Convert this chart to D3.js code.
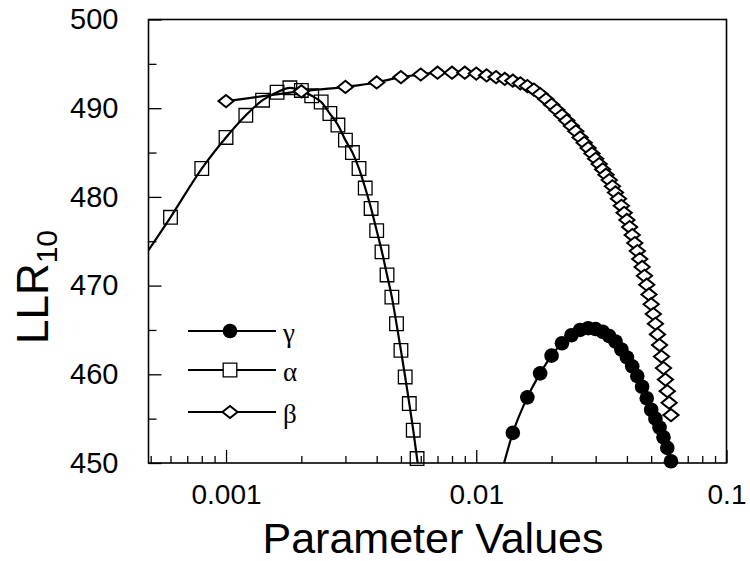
<!DOCTYPE html>
<html>
<head>
<meta charset="utf-8">
<script src="https://cdn.jsdelivr.net/npm/d3@7"></script>
<style>
  body { margin: 0; background: #fff; }
  svg { display: block; }
  text { font-family: "Liberation Sans", Arial, Helvetica, sans-serif; fill: #000; }
</style>
</head>
<body>
<div id="chart"></div>
<script>
// parameter values (x) and LLR10 (y)
var gammaP = [0.014, 0.016, 0.018, 0.020, 0.022, 0.024, 0.026, 0.028, 0.030, 0.032, 0.034, 0.036,
              0.038, 0.040, 0.042, 0.044, 0.046, 0.048, 0.050, 0.052, 0.054, 0.056, 0.058, 0.060];
var gammaV = [453.4, 457.4, 460.1, 462.1, 463.5, 464.4, 465.0, 465.2, 465.1, 464.8, 464.3, 463.7,
              462.8, 461.9, 460.9, 459.8, 458.6, 457.3, 456.0, 455.0, 454.0, 452.9, 451.7, 450.2];

var alphaP = [0.0006, 0.0008, 0.0010, 0.0012, 0.0014, 0.0016, 0.0018, 0.0020, 0.0022, 0.0024, 0.0026,
              0.0028, 0.0030, 0.0032, 0.0034, 0.0036, 0.0038, 0.0040, 0.0042, 0.0044, 0.0046,
              0.0048, 0.0050, 0.0052, 0.0054, 0.0056, 0.0058];
var alphaV = [477.7, 483.2, 486.7, 489.2, 490.9, 491.8, 492.3, 492.0, 491.4, 490.7, 489.4,
              488.1, 486.4, 485.0, 483.2, 481.0, 478.7, 476.2, 473.8, 471.2, 468.7,
              465.7, 462.7, 459.7, 456.7, 453.7, 450.5];

var betaP = [0.001, 0.002, 0.003, 0.004, 0.005, 0.006, 0.007, 0.008, 0.009, 0.010,
             0.011, 0.012, 0.013, 0.014, 0.015, 0.016, 0.017, 0.018, 0.019, 0.020,
             0.021, 0.022, 0.023, 0.024, 0.025, 0.026, 0.027, 0.028, 0.029, 0.030,
             0.031, 0.032, 0.033, 0.034, 0.035, 0.036, 0.037, 0.038, 0.039, 0.040,
             0.041, 0.042, 0.043, 0.044, 0.045, 0.046, 0.047, 0.048, 0.049, 0.050,
             0.051, 0.052, 0.053, 0.054, 0.055, 0.056, 0.057, 0.058, 0.059, 0.060];
var betaV = [490.8, 491.9, 492.4, 492.9, 493.5, 493.8, 494.0, 494.0, 494.0, 493.9,
             493.7, 493.5, 493.3, 493.1, 492.8, 492.5, 492.1, 491.6, 491.0, 490.4,
             489.8, 489.2, 488.6, 488.0, 487.4, 486.7, 486.1, 485.5, 484.9, 484.3,
             483.7, 483.1, 482.5, 481.9, 481.2, 480.5, 479.8, 479.0, 478.2, 477.4,
             476.6, 475.7, 474.8, 473.9, 473.0, 472.1, 471.1, 470.1, 469.0, 467.9,
             466.8, 465.7, 464.5, 463.3, 462.0, 460.7, 459.4, 458.1, 456.8, 455.4];

// line-only ends where the fitted curves run out of the frame
var alphaLineP = [0.00049].concat(alphaP, [0.0060]);
var alphaLineV = [474.0].concat(alphaV, [447.5]);
var gammaLineP = [0.0125].concat(gammaP);
var gammaLineV = [448.5].concat(gammaV);

var xMajor = [0.001, 0.01, 0.1];
var xMinor = [0.0005, 0.0006, 0.0007, 0.0008, 0.0009,
              0.002, 0.003, 0.004, 0.005, 0.006, 0.007, 0.008, 0.009,
              0.02, 0.03, 0.04, 0.05, 0.06, 0.07, 0.08, 0.09];
var yMajor = [450, 460, 470, 480, 490, 500];
var yMinor = [455, 465, 475, 485, 495];

var legendNames = ["\u03b3", "\u03b1", "\u03b2"];

var width = 750, height = 561;
var plotL = 148.5, plotR = 726.5, plotT = 19.5, plotB = 463;

var svg = d3.select("#chart").append("svg")
  .attr("width", width)
  .attr("height", height);

var x = d3.scaleLog().domain([0.00049, 0.1]).range([plotL, plotR]);
var y = d3.scaleLinear().domain([450, 500]).range([plotB, plotT]);

svg.append("defs").append("clipPath")
  .attr("id", "clip")
  .append("rect")
  .attr("x", plotL).attr("y", plotT)
  .attr("width", plotR - plotL).attr("height", plotB - plotT);

// axes with inward ticks
var gx = svg.append("g").attr("transform", "translate(0," + plotB + ")");
gx.call(d3.axisBottom(x).tickValues(xMinor).tickSizeInner(-7).tickSizeOuter(0).tickFormat(""));
gx.select(".domain").remove();
var gx2 = svg.append("g").attr("transform", "translate(0," + plotB + ")");
gx2.call(d3.axisBottom(x).tickValues(xMajor).tickSizeInner(-13).tickSizeOuter(0).tickPadding(21)
  .tickFormat(function(d) { return d3.format("")(d); }));
gx2.select(".domain").remove();
gx2.selectAll("text").style("font-size", "28px");

var gy = svg.append("g").attr("transform", "translate(" + plotL + ",0)");
gy.call(d3.axisLeft(y).tickValues(yMinor).tickSizeInner(-8).tickSizeOuter(0).tickFormat(""));
gy.select(".domain").remove();
var gy2 = svg.append("g").attr("transform", "translate(" + plotL + ",0)");
gy2.call(d3.axisLeft(y).tickValues(yMajor).tickSizeInner(-13).tickSizeOuter(0).tickPadding(30));
gy2.select(".domain").remove();
gy2.selectAll("text").style("font-size", "29px");

svg.selectAll(".tick line").attr("stroke", "#000").attr("stroke-width", 1.3);

// frame
svg.append("rect")
  .attr("x", plotL).attr("y", plotT)
  .attr("width", plotR - plotL).attr("height", plotB - plotT)
  .attr("fill", "none").attr("stroke", "#000").attr("stroke-width", 1.6);

var line = d3.line()
  .x(function(d) { return x(d[0]); })
  .y(function(d) { return y(d[1]); })
  .curve(d3.curveMonotoneX);

var plot = svg.append("g").attr("clip-path", "url(#clip)");

function pairs(ps, vs) { return ps.map(function(p, i) { return [p, vs[i]]; }); }

plot.append("path").datum(pairs(alphaLineP, alphaLineV))
  .attr("d", line).attr("fill", "none").attr("stroke", "#000").attr("stroke-width", 2.2);
plot.append("path").datum(pairs(betaP, betaV))
  .attr("d", line).attr("fill", "none").attr("stroke", "#000").attr("stroke-width", 2.2);
plot.append("path").datum(pairs(gammaLineP, gammaLineV))
  .attr("d", line).attr("fill", "none").attr("stroke", "#000").attr("stroke-width", 2.2);

// wide, flat diamond like the printed marker
var flatDiamond = {
  draw: function(ctx, size) {
    var w = Math.sqrt(size) * 0.62, h = w * 0.8;
    ctx.moveTo(-w, 0); ctx.lineTo(0, -h); ctx.lineTo(w, 0); ctx.lineTo(0, h); ctx.closePath();
  }
};
var sq = d3.symbol().type(d3.symbolSquare).size(185);
var dm = d3.symbol().type(flatDiamond).size(150);

svg.append("g").selectAll("path.a")
  .data(pairs(alphaP, alphaV)).enter().append("path")
  .attr("transform", function(d) { return "translate(" + x(d[0]) + "," + y(d[1]) + ")"; })
  .attr("d", sq).attr("fill", "none").attr("stroke", "#000").attr("stroke-width", 1.3);

svg.append("g").selectAll("path.b")
  .data(pairs(betaP, betaV)).enter().append("path")
  .attr("transform", function(d) { return "translate(" + x(d[0]) + "," + y(d[1]) + ")"; })
  .attr("d", dm).attr("fill", "#fff").attr("stroke", "#000").attr("stroke-width", 2);

svg.append("g").selectAll("circle")
  .data(pairs(gammaP, gammaV)).enter().append("circle")
  .attr("cx", function(d) { return x(d[0]); })
  .attr("cy", function(d) { return y(d[1]); })
  .attr("r", 7.3).attr("fill", "#000");

// legend
var legY = [331, 370, 412];
var leg = svg.append("g");
legY.forEach(function(ly, i) {
  leg.append("line").attr("x1", 188).attr("x2", 276).attr("y1", ly).attr("y2", ly)
    .attr("stroke", "#000").attr("stroke-width", 2.2);
  if (i == 0) {
    leg.append("circle").attr("cx", 230).attr("cy", ly).attr("r", 7.3).attr("fill", "#000");
  } else if (i == 1) {
    leg.append("path").attr("transform", "translate(230," + ly + ")")
      .attr("d", sq).attr("fill", "#fff").attr("stroke", "#000").attr("stroke-width", 1.3);
  } else {
    leg.append("path").attr("transform", "translate(230," + ly + ")")
      .attr("d", dm).attr("fill", "#fff").attr("stroke", "#000").attr("stroke-width", 2);
  }
  leg.append("text").attr("x", 283).attr("y", ly + 11)
    .style("font-family", "'Liberation Serif', serif").style("font-size", "27px")
    .text(legendNames[i]);
});

// axis titles
svg.append("text")
  .attr("x", 433).attr("y", 553)
  .attr("text-anchor", "middle")
  .style("font-size", "43px")
  .text("Parameter Values");

var yl = svg.append("text")
  .attr("transform", "translate(48,287) rotate(-90)")
  .attr("text-anchor", "middle")
  .style("font-size", "44px");
yl.append("tspan").text("LLR");
yl.append("tspan").attr("dy", 9).style("font-size", "30px").text("10");
</script>
</body>
</html>
